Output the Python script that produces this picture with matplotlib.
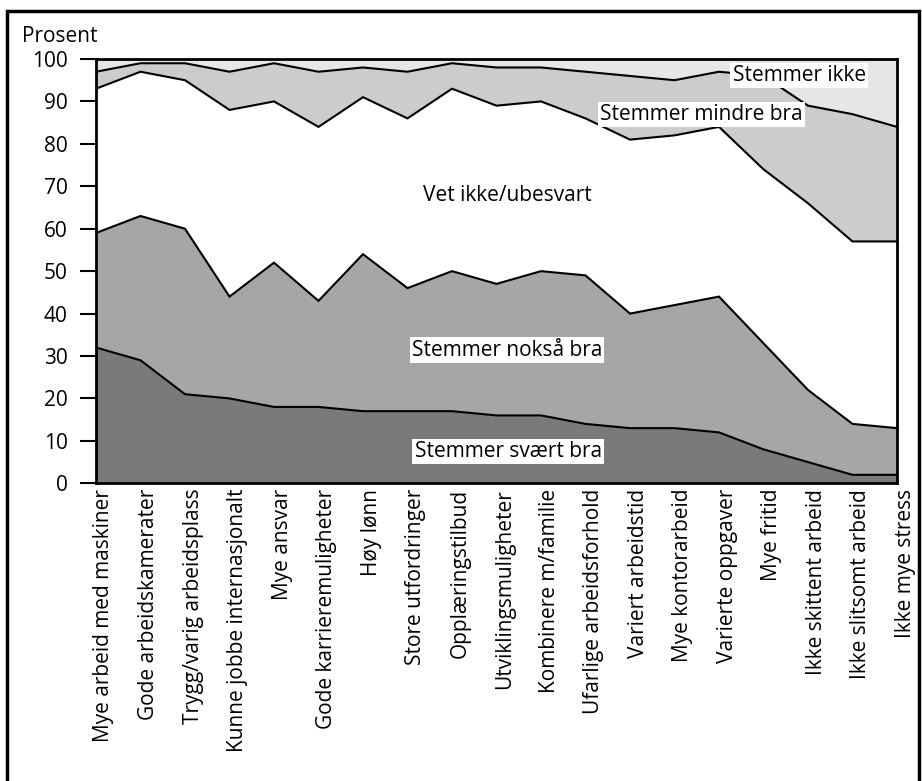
import matplotlib
matplotlib.use("Agg")
import matplotlib.pyplot as plt
import numpy as np
from matplotlib.lines import Line2D
import matplotlib.transforms as mtransforms

plt.rcParams['font.family'] = ['Open Sans', 'DejaVu Sans']

categories = [
    "Mye arbeid med maskiner", "Gode arbeidskamerater", "Trygg/varig arbeidsplass",
    "Kunne jobbe internasjonalt", "Mye ansvar", "Gode karrieremuligheter", "Høy lønn",
    "Store utfordringer", "Opplæringstilbud", "Utviklingsmuligheter", "Kombinere m/familie",
    "Ufarlige arbeidsforhold", "Variert arbeidstid", "Mye kontorarbeid", "Varierte oppgaver",
    "Mye fritid", "Ikke skittent arbeid", "Ikke slitsomt arbeid", "Ikke mye stress",
]
# cumulative boundaries (percent)
svaert_bra = [32, 29, 21, 20, 18, 18, 17, 17, 17, 16, 16, 14, 13, 13, 12, 8, 5, 2, 2]
cum_noksa = [59, 63, 60, 44, 52, 43, 54, 46, 50, 47, 50, 49, 40, 42, 44, 33, 22, 14, 13]
cum_vetikke = [93, 97, 95, 88, 90, 84, 91, 86, 93, 89, 90, 86, 81, 82, 84, 74, 66, 57, 57]
cum_mindre = [97, 99, 99, 97, 99, 97, 98, 97, 99, 98, 98, 97, 96, 95, 97, 96, 89, 87, 84]
total = [100] * len(categories)

series_names = ["Stemmer svært bra", "Stemmer nokså bra", "Vet ikke/ubesvart",
                "Stemmer mindre bra", "Stemmer ikke"]
colors = ["#7a7a7a", "#a6a6a6", "#ffffff", "#cccccc", "#e6e6e6"]

W, H = 922, 781
fig = plt.figure(figsize=(W / 100, H / 100), dpi=100)
ax = fig.add_axes([96 / W, 1 - 483.3 / H, (897 - 96) / W, (483.3 - 59) / H])

x = np.arange(len(categories))
bounds = [np.zeros(len(x)), np.array(svaert_bra), np.array(cum_noksa),
          np.array(cum_vetikke), np.array(cum_mindre), np.array(total)]
for i in range(5):
    ax.fill_between(x, bounds[i], bounds[i + 1], facecolor=colors[i], edgecolor="none", zorder=1)
for b in bounds[1:5]:
    ax.plot(x, b, color="black", lw=1.5, zorder=2, solid_joinstyle="miter")

ax.set_xlim(0, len(x) - 1)
ax.set_ylim(0, 100)
ax.set_yticks(range(0, 101, 10))
ax.tick_params(axis="y", length=11.5, width=1.5, labelsize=15, pad=9)
ax.set_xticks(x)
ax.set_xticklabels(categories, rotation=90, fontsize=15, va="top", ha="center")
ax.tick_params(axis="x", length=0, pad=4)
offset = mtransforms.ScaledTranslation(8 / 100, 0, fig.dpi_scale_trans)
for lab in ax.get_xticklabels():
    lab.set_transform(lab.get_transform() + offset)
for s in ax.spines.values():
    s.set_linewidth(2)
    s.set_zorder(3)

ax.text(22 / W, 1 - 37 / H, "Prosent", transform=fig.transFigure, fontsize=15,
        ha="left", va="center")

lab_kw = dict(fontsize=15, ha="center", va="center", zorder=4)
box = dict(facecolor="white", edgecolor="none", pad=1.5)
ax.text(15.8, 96.1, series_names[4], bbox=box, **lab_kw)
ax.text(13.6, 86.9, series_names[3], bbox=box, **lab_kw)
ax.text(9.24, 67.8, series_names[2], **lab_kw)
ax.text(9.24, 31.4, series_names[1], bbox=box, **lab_kw)
ax.text(9.26, 7.4, series_names[0], bbox=box, **lab_kw)

# outer frame: left, top and right edges (bottom edge lies below the image)
xl, xr, yt = 7 / W, 919 / W, 1 - 11 / H
fig.lines.append(Line2D([xl, xl, xr, xr], [-0.1, yt, yt, -0.1], transform=fig.transFigure,
                        color="black", linewidth=2.5, solid_joinstyle="miter"))

fig.savefig("out.png", dpi=100)
